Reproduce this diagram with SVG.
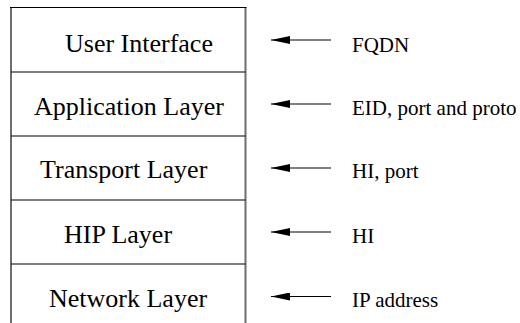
<svg xmlns="http://www.w3.org/2000/svg" width="520" height="323" viewBox="0 0 520 323">
<style>
.lbl{font-family:"Liberation Serif","Times New Roman",serif;font-size:26px;fill:#000}
.ann{font-family:"Liberation Serif","Times New Roman",serif;font-size:21px;fill:#000}
.side{stroke:#6e6e6e;stroke-width:2;fill:none}
.div{stroke:#000;stroke-width:1.2;fill:none}
.arr{stroke:#000;stroke-width:1.2;fill:none;marker-end:url(#ah)}
</style>
<defs>
<marker id="ah" markerWidth="19" markerHeight="8" refX="19" refY="4" orient="auto" markerUnits="userSpaceOnUse">
<path d="M0,0 L19,4 L0,8 Z" fill="#000"/>
</marker>
</defs>
<rect width="520" height="323" fill="#fff"/>
<g id="stack">
<line class="side" x1="11" y1="7" x2="11" y2="323"/>
<line class="side" x1="245.5" y1="7" x2="245.5" y2="323"/>
<line class="div" x1="10" y1="7.5" x2="246.5" y2="7.5"/>
</g>
<g id="user-interface">
<text class="lbl" x="65" y="52">User Interface</text>
<line class="div" x1="11" y1="72" x2="245.5" y2="72"/>
</g>
<g id="application-layer">
<text class="lbl" x="34" y="115">Application Layer</text>
<line class="div" x1="11" y1="136" x2="245.5" y2="136"/>
</g>
<g id="transport-layer">
<text class="lbl" x="40" y="178">Transport Layer</text>
<line class="div" x1="11" y1="200" x2="245.5" y2="200"/>
</g>
<g id="hip-layer">
<text class="lbl" x="64" y="243">HIP Layer</text>
<line class="div" x1="11" y1="264" x2="245.5" y2="264"/>
</g>
<g id="network-layer">
<text class="lbl" x="49" y="307">Network Layer</text>
</g>
<g id="connectors">
<line class="arr" x1="331" y1="40" x2="271" y2="40"/>
<line class="arr" x1="331" y1="104" x2="271" y2="104"/>
<line class="arr" x1="331" y1="168" x2="271" y2="168"/>
<line class="arr" x1="331" y1="232" x2="271" y2="232"/>
<line class="arr" x1="331" y1="296.5" x2="271" y2="296.5"/>
</g>
<g id="labels">
<text class="ann" x="352" y="52">FQDN</text>
<text class="ann" x="352" y="115">EID, port and proto</text>
<text class="ann" x="352" y="178">HI, port</text>
<text class="ann" x="352" y="243">HI</text>
<text class="ann" x="352" y="307">IP address</text>
</g>
</svg>
